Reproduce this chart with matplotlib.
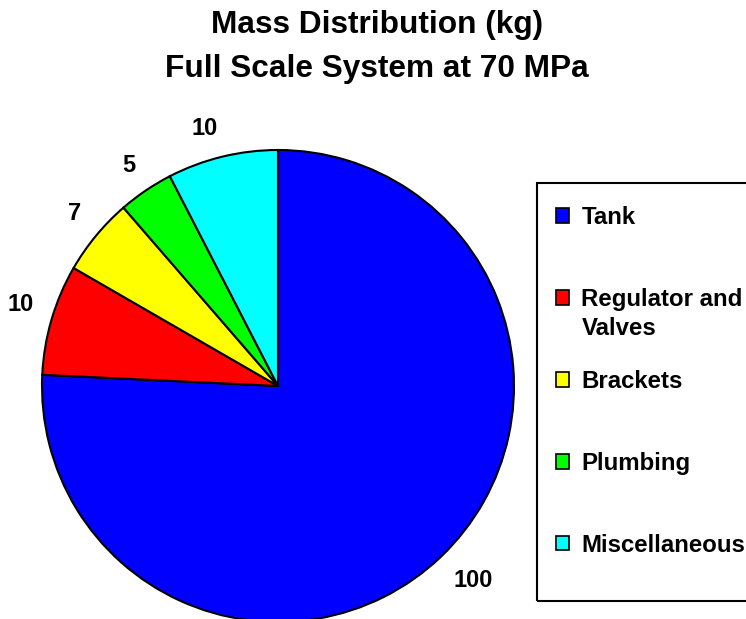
import matplotlib
matplotlib.use("Agg")
import numpy as np
import matplotlib.pyplot as plt
from matplotlib.patches import Rectangle

categories = ["Tank", "Regulator and\nValves", "Brackets", "Plumbing", "Miscellaneous"]
values = [100, 10, 7, 5, 10]
colors = ["#0000FF", "#FF0000", "#FFFF00", "#00FF00", "#00FFFF"]
title = "Mass Distribution (kg)\nFull Scale System at 70 MPa"

W, H = 746, 619
fig = plt.figure(figsize=(W / 100, H / 100), dpi=100)
plt.rcParams['font.family'] = ['Liberation Sans', 'DejaVu Sans']

cx, cy, r = 278, 386, 236
ax = fig.add_axes([(cx - r) / W, (H - cy - r) / H, 2 * r / W, 2 * r / H])
wedges, texts = ax.pie(values, labels=[str(v) for v in values], colors=colors,
                       startangle=90, counterclock=False, radius=1,
                       labeldistance=1.1,
                       wedgeprops=dict(edgecolor="black", linewidth=1.5),
                       textprops=dict(fontsize=17, fontweight="bold"))
ax.set_xlim(-1, 1)
ax.set_ylim(-1, 1)
ax.set_aspect("equal")
ax.axis("off")
for w in wedges:
    w.set_clip_on(False)

fig.text(377 / W, 1 - 47 / H, title, ha="center", va="center",
         fontsize=22.8, fontweight="bold", linespacing=1.65)

# legend: first line of each entry on an even grid (Excel style)
leg_labels = [c.split("\n")[0] for c in categories]
fs = 17.3
leg = fig.legend(wedges, leg_labels, loc="upper left",
                 bbox_to_anchor=(537 / W, 1 - 187 / H), borderaxespad=0,
                 prop=dict(weight="bold", size=fs),
                 handlelength=0.55, handleheight=0.55, handletextpad=0.5,
                 labelspacing=2.45, borderpad=0.8, frameon=False)
for h in leg.legend_handles:
    h.set_edgecolor("black")
    h.set_linewidth(1.2)

fig.patches.append(Rectangle((537 / W, 1 - 601 / H), 230 / W, 418 / H,
                             transform=fig.transFigure, fill=False,
                             edgecolor="black", linewidth=1.5, clip_on=False))

fig.canvas.draw()
renderer = fig.canvas.get_renderer()

# continuation lines of multi-line legend labels
line_h = fs * 100 / 72 * 1.2
for cat, t in zip(categories, leg.get_texts()):
    extra = cat.split("\n")[1:]
    if extra:
        bb = t.get_window_extent(renderer)
        for k, line in enumerate(extra, start=1):
            fig.text(bb.x0 / W, (bb.y0 - k * line_h) / H, line,
                     ha="left", va="bottom", fontsize=fs, fontweight="bold")

# data labels: nearest corner of label box at fixed gap outside the pie
gap = 1.08
for w, t in zip(wedges, texts):
    ang = np.deg2rad((w.theta1 + w.theta2) / 2)
    ux, uy = np.cos(ang), np.sin(ang)
    bb = t.get_window_extent(renderer)
    hw = bb.width / 2 / r
    hh = bb.height / 2 / r * 0.85
    t.set_position((gap * ux + hw * np.sign(ux), gap * uy + hh * np.sign(uy)))
    t.set_horizontalalignment("center")
    t.set_verticalalignment("center")

fig.savefig("out.png", dpi=100)
